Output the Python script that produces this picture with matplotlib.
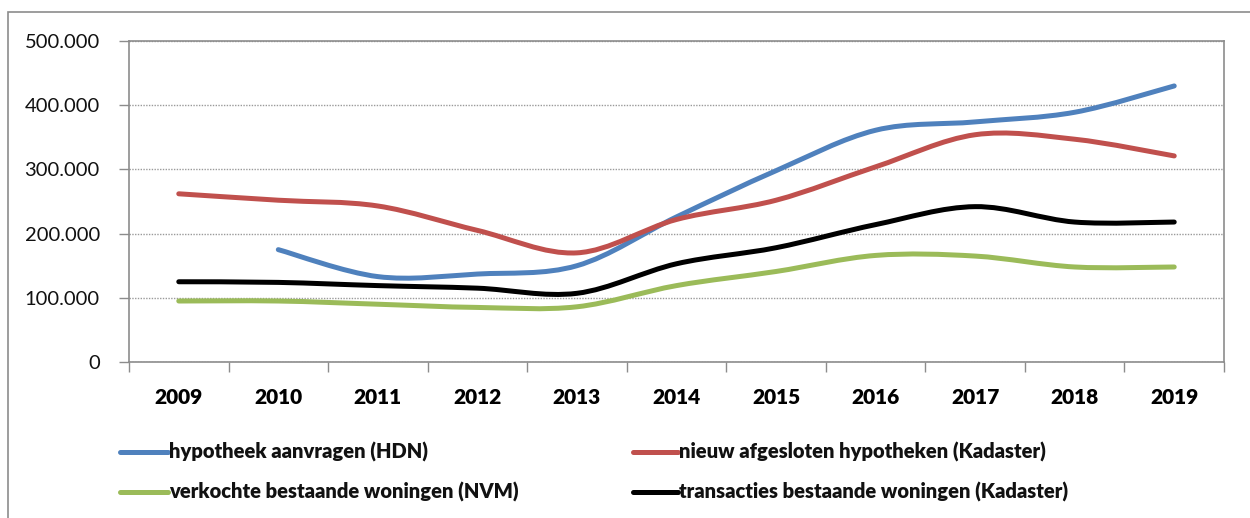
import matplotlib
matplotlib.use("Agg")
import matplotlib.pyplot as plt
from matplotlib.path import Path
from matplotlib.patches import PathPatch, Rectangle
from matplotlib.lines import Line2D
from matplotlib.ticker import FuncFormatter, MultipleLocator, FixedLocator
import numpy as np

years = ["2009", "2010", "2011", "2012", "2013", "2014", "2015", "2016", "2017", "2018", "2019"]
hdn = [None, 175000, 133000, 137000, 150000, 226000, 298000, 361000, 374000, 389000, 430000]
kadaster_hyp = [262000, 252000, 243000, 205000, 170000, 222000, 252000, 304000, 354000, 347000, 321000]
nvm = [95000, 95000, 90000, 85000, 86000, 119000, 141000, 166000, 165000, 148000, 148000]
kadaster_trans = [125000, 124000, 119000, 115000, 107000, 153000, 178000, 214000, 242000, 218000, 218000]

labels = ["hypotheek aanvragen (HDN)", "nieuw afgesloten hypotheken (Kadaster)",
          "verkochte bestaande woningen (NVM)", "transacties bestaande woningen (Kadaster)"]
colors = ["#4F81BD", "#C0504D", "#9BBB59", "#000000"]
series = [hdn, kadaster_hyp, nvm, kadaster_trans]

W, H = 1250, 518
fig = plt.figure(figsize=(W / 100, H / 100), dpi=100)
plt.rcParams['font.family'] = ['Lato', 'DejaVu Sans']

# outer frame
fig.patches.append(Rectangle((8 / W, -0.1), 1.2, (H - 12) / H + 0.1, transform=fig.transFigure,
                             fill=False, edgecolor="#8c8c8c", linewidth=1.2))

left, right, top, bottom = 129, 1224, 41, 362
ax = fig.add_axes([left / W, (H - bottom) / H, (right - left) / W, (bottom - top) / H])


def smooth_path(xs, ys):
    pts = np.column_stack([xs, ys])
    n = len(pts)
    verts = [pts[0]]
    codes = [Path.MOVETO]
    for i in range(n - 1):
        p0 = pts[i - 1] if i > 0 else pts[i]
        p1 = pts[i]
        p2 = pts[i + 1]
        p3 = pts[i + 2] if i + 2 < n else pts[i + 1]
        c1 = p1 + (p2 - p0) / 6.0
        c2 = p2 - (p3 - p1) / 6.0
        verts += [c1, c2, p2]
        codes += [Path.CURVE4] * 3
    return Path(verts, codes)


for vals, c in zip(series, colors):
    xs = [i for i, v in enumerate(vals) if v is not None]
    ys = [v for v in vals if v is not None]
    patch = PathPatch(smooth_path(xs, ys), fill=False, edgecolor=c, linewidth=3.6,
                      capstyle='round', joinstyle='round', zorder=3)
    ax.add_patch(patch)

ax.set_xlim(-0.5, len(years) - 0.5)
ax.set_ylim(0, 500000)

ax.yaxis.set_major_locator(MultipleLocator(100000))
ax.yaxis.set_major_formatter(FuncFormatter(lambda v, p: f"{int(v):,}".replace(",", ".")))
ax.xaxis.set_major_locator(FixedLocator(np.arange(-0.5, len(years), 1.0)))
ax.xaxis.set_major_formatter(FuncFormatter(lambda v, p: ""))
ax.xaxis.set_minor_locator(FixedLocator(np.arange(len(years))))
ax.set_xticklabels(years, minor=True)

ax.tick_params(axis='x', which='major', length=7, width=1, color="#8c8c8c", direction='out')
ax.tick_params(axis='x', which='minor', length=0, pad=19, labelsize=15, labelcolor="#000000")
for t in ax.get_xticklabels(minor=True):
    t.set_fontweight('heavy')
ax.tick_params(axis='y', length=7, width=1, color="#8c8c8c", direction='out', pad=14,
               labelsize=14.5, labelcolor="#111111")

ax.grid(axis='y', which='major', linestyle=(0, (1, 1)), color="#9a9a9a", linewidth=1)
for s in ax.spines.values():
    s.set_color("#8c8c8c")
    s.set_linewidth(1.2)
ax.set_axisbelow(True)

# legend
rows = [452, 492]
cols = [(120, 168), (633, 678)]
order = [(0, 0, 0), (1, 1, 0), (2, 0, 1), (3, 1, 1)]
for idx, ci, ri in order:
    x0, x1 = cols[ci]
    y = 1 - rows[ri] / H
    fig.lines.append(Line2D([x0 / W, x1 / W], [y, y], transform=fig.transFigure,
                            color=colors[idx], linewidth=3.6, solid_capstyle='round'))
    fig.text((x1 + 1) / W, y, labels[idx], fontsize=14.5, fontweight='heavy', va='center',
             ha='left', color="#111111")

fig.savefig("out.png", dpi=100)
